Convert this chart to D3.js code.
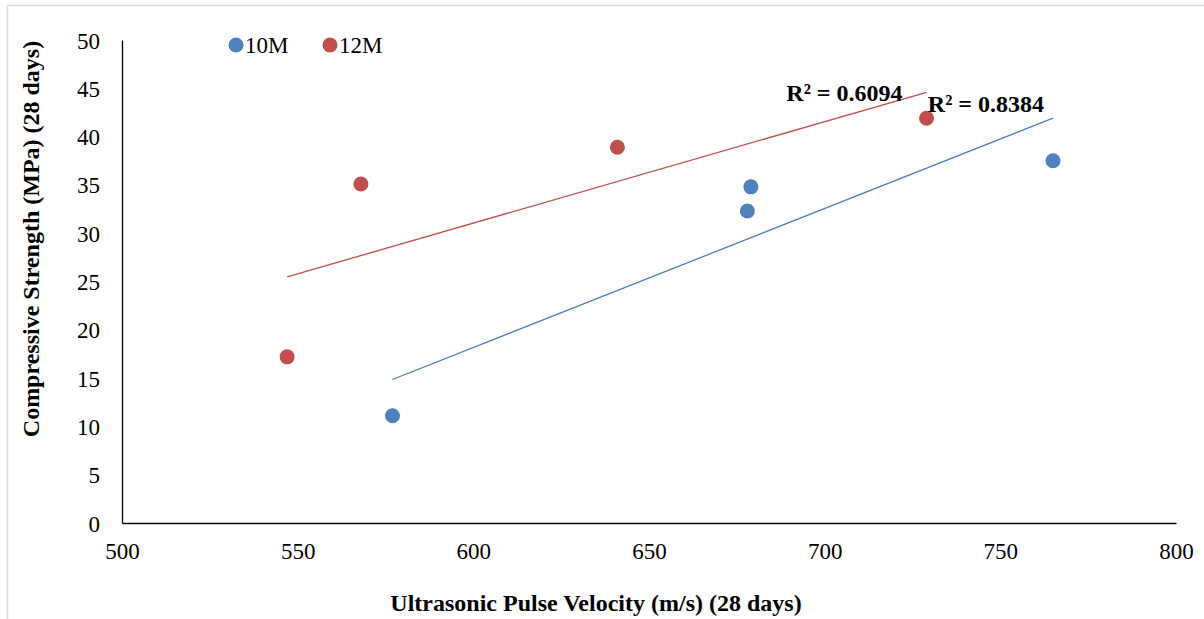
<!DOCTYPE html>
<html>
<head>
<meta charset="utf-8">
<style>
  body { margin: 0; background: #fff; }
  svg text { font-family: "Liberation Serif", "Times New Roman", serif; fill: #000; }
</style>
<title>UPV vs Compressive Strength</title>
</head>
<body>
<script src="https://cdn.jsdelivr.net/npm/d3@7/dist/d3.min.js"></script>
<script>
  // data
  const upv10M = [577, 678, 679, 765];
  const cs10M = [11.1, 32.3, 34.8, 37.5];
  const upv12M = [547, 568, 641, 729];
  const cs12M = [17.2, 35.1, 38.9, 41.9];
  const seriesNames = ["10M", "12M"];
  const r2Labels = ["R² = 0.8384", "R² = 0.6094"];
  const xTicks = [500, 550, 600, 650, 700, 750, 800];
  const yTicks = [0, 5, 10, 15, 20, 25, 30, 35, 40, 45, 50];

  const colors = ["#4F81BD", "#C0504D"];

  const W = 1204, H = 619;
  const margin = {top: 40, right: 28, bottom: 96, left: 122};
  const width = W - margin.left - margin.right;
  const height = H - margin.top - margin.bottom;

  const x = d3.scaleLinear().domain([500, 800]).range([0, width]);
  const y = d3.scaleLinear().domain([0, 50]).range([height, 0]);

  const svg = d3.select("body").append("svg")
    .attr("width", W).attr("height", H);

  // light outer frame
  svg.append("path")
    .attr("d", "M7.5," + H + "V5.5H" + W)
    .attr("fill", "none").attr("stroke", "#d9d9d9").attr("stroke-width", 1.5);

  const g = svg.append("g")
    .attr("transform", "translate(" + margin.left + "," + margin.top + ")");

  const series = [
    {name: seriesNames[0], xs: upv10M, ys: cs10M, color: colors[0], r2: r2Labels[0]},
    {name: seriesNames[1], xs: upv12M, ys: cs12M, color: colors[1], r2: r2Labels[1]}
  ];

  // axes
  const xAxis = g.append("g")
    .attr("transform", "translate(0," + height + ")")
    .call(d3.axisBottom(x).tickValues(xTicks).tickSize(0).tickPadding(20));
  const yAxis = g.append("g")
    .call(d3.axisLeft(y).tickValues(yTicks).tickSize(0).tickPadding(22));
  [xAxis, yAxis].forEach(a => {
    a.attr("font-family", null).attr("font-size", null);
    a.select(".domain").attr("stroke", "#000").attr("stroke-width", 1.3);
    a.selectAll("text").style("font-family", "Liberation Serif").style("font-size", "23px").attr("fill", "#000");
  });
  yAxis.selectAll("text").attr("dy", "0.35em");

  // linear trendlines (least squares)
  series.forEach(s => {
    const pts = s.xs.map((v, i) => [v, s.ys[i]]);
    const mx = d3.mean(s.xs), my = d3.mean(s.ys);
    const sxy = d3.sum(pts, p => (p[0] - mx) * (p[1] - my));
    const sxx = d3.sum(pts, p => (p[0] - mx) * (p[0] - mx));
    const m = sxy / sxx, b = my - m * mx;
    const x0 = d3.min(s.xs), x1 = d3.max(s.xs);
    g.append("line")
      .attr("x1", x(x0)).attr("y1", y(m * x0 + b))
      .attr("x2", x(x1)).attr("y2", y(m * x1 + b))
      .attr("stroke", s.color).attr("stroke-width", 1.3);
    s.end = [x1, m * x1 + b];
  });

  // points
  series.forEach(s => {
    g.selectAll(null)
      .data(s.xs.map((v, i) => [v, s.ys[i]]))
      .enter().append("circle")
      .attr("cx", d => x(d[0])).attr("cy", d => y(d[1]))
      .attr("r", 7.5).attr("fill", s.color);
  });

  // R² labels
  g.append("text")
    .attr("x", x(series[1].end[0]) - 24).attr("y", y(series[1].end[1]) + 9)
    .attr("text-anchor", "end")
    .style("font-size", "24px").style("font-weight", "bold")
    .text(series[1].r2);
  g.append("text")
    .attr("x", x(series[0].end[0]) - 9).attr("y", y(series[0].end[1]) - 6)
    .attr("text-anchor", "end")
    .style("font-size", "24px").style("font-weight", "bold")
    .text(series[0].r2);

  // legend
  const legend = svg.append("g").attr("transform", "translate(236,45)");
  series.forEach((s, i) => {
    const item = legend.append("g").attr("transform", "translate(" + (i * 94) + ",0)");
    item.append("circle").attr("r", 7.5).attr("fill", s.color);
    item.append("text").attr("x", 9).attr("dy", "0.35em")
      .style("font-size", "23px").text(s.name);
  });

  // axis titles
  svg.append("text")
    .attr("x", 596).attr("y", 611)
    .attr("text-anchor", "middle")
    .style("font-size", "24px").style("font-weight", "bold")
    .text("Ultrasonic Pulse Velocity (m/s) (28 days)");

  svg.append("text")
    .attr("transform", "translate(39,239) rotate(-90)")
    .attr("text-anchor", "middle")
    .style("font-size", "24px").style("font-weight", "bold")
    .text("Compressive Strength (MPa) (28 days)");
</script>
</body>
</html>
